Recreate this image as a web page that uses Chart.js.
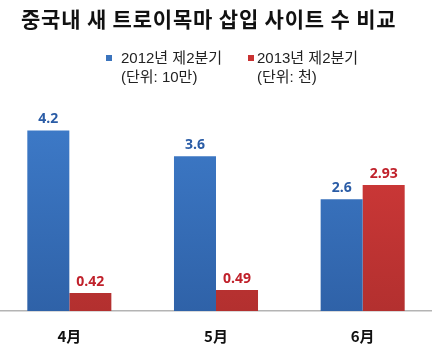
<!DOCTYPE html>
<html>
<head>
<meta charset="utf-8">
<script src="https://cdn.jsdelivr.net/npm/chart.js@4"></script>
<style>
  body { margin: 0; background: #fff; }
  #wrap { position: relative; width: 432px; height: 352px; overflow: hidden; font-family: "Liberation Sans", "Noto Sans CJK KR", sans-serif; }
  #title { position: absolute; left: 21px; top: 3px; font: bold 21px "Noto Sans CJK KR", sans-serif; color: #111; white-space: nowrap; letter-spacing: 0.8px; }
  .leg { position: absolute; top: 48px; font-size: 15px; color: #222; line-height: 19px; white-space: nowrap; }
  .leg i { position: absolute; top: 7px; width: 6px; height: 6px; }
  #chartBox { position: absolute; left: -4px; top: 0; width: 440px; height: 352px; }
</style>
</head>
<body>
<div id="wrap">
  <div id="chartBox"><canvas id="canvasChart" width="440" height="352"></canvas></div>
  <div id="title">중국내 새 트로이목마 삽입 사이트 수 비교</div>
  <div class="leg" style="left:121px"><i style="left:-15px;background:#3b74bd"></i>2012년 제2분기<br>(단위: 10만)</div>
  <div class="leg" style="left:257px"><i style="left:-9px;background:#c93232"></i>2013년 제2분기<br>(단위: 천)</div>
</div>
<script>
// data
var months = ['4月', '5月', '6月']
var q2012 = [4.2, 3.6, 2.6]
var q2013 = [0.42, 0.49, 2.93]
var seriesNames = ['2012년 제2분기 (단위: 10만)', '2013년 제2분기 (단위: 천)']

function grad(ctx, top, bottom) {
    var area = ctx.chart.chartArea
    if (!area) return top
    var g = ctx.chart.ctx.createLinearGradient(0, area.top, 0, area.bottom)
    g.addColorStop(0, top)
    g.addColorStop(1, bottom)
    return g
}

// values drawn above each bar
const valueLabels = {
    id: 'valueLabels',
    afterDatasetsDraw(chart) {
        const c = chart.ctx
        c.save()
        c.font = 'bold 14px "Open Sans", "Liberation Sans", sans-serif'
        c.textAlign = 'center'
        c.textBaseline = 'bottom'
        chart.data.datasets.forEach((ds, i) => {
            c.fillStyle = ds.labelColor
            chart.getDatasetMeta(i).data.forEach((bar, j) => {
                c.fillText(ds.data[j], bar.x, bar.y - 4)
            })
        })
        c.restore()
    }
}

let ctx = document.getElementById('canvasChart').getContext('2d')
let chart = new Chart(ctx, {
    type: 'bar',
    data: {
        labels: months,
        datasets: [{
            label: seriesNames[0],
            data: q2012,
            backgroundColor: (c) => grad(c, '#3f7dcc', '#2f62a8'),
            labelColor: '#2a5ca6'
        }, {
            label: seriesNames[1],
            data: q2013,
            backgroundColor: (c) => grad(c, '#d83b3b', '#b3302f'),
            labelColor: '#c0212b'
        }]
    },
    options: {
        responsive: false,
        animation: false,
        layout: { padding: { top: 96, left: 0, right: 0, bottom: 0 } },
        datasets: { bar: { barPercentage: 1, categoryPercentage: 0.573 } },
        plugins: { legend: { display: false }, title: { display: false }, tooltip: { enabled: false } },
        scales: {
            x: {
                grid: { display: false, drawTicks: false },
                border: { display: true, color: '#b4b4b4', width: 1.5 },
                ticks: { color: '#111', padding: 16, font: { size: 15, weight: 'bold', family: '"Noto Sans CJK KR", sans-serif' } },
                afterFit: (scale) => { scale.height = 41 }
            },
            y: {
                display: false,
                min: 0,
                max: 5
            }
        }
    },
    plugins: [valueLabels]
})
</script>
</body>
</html>
